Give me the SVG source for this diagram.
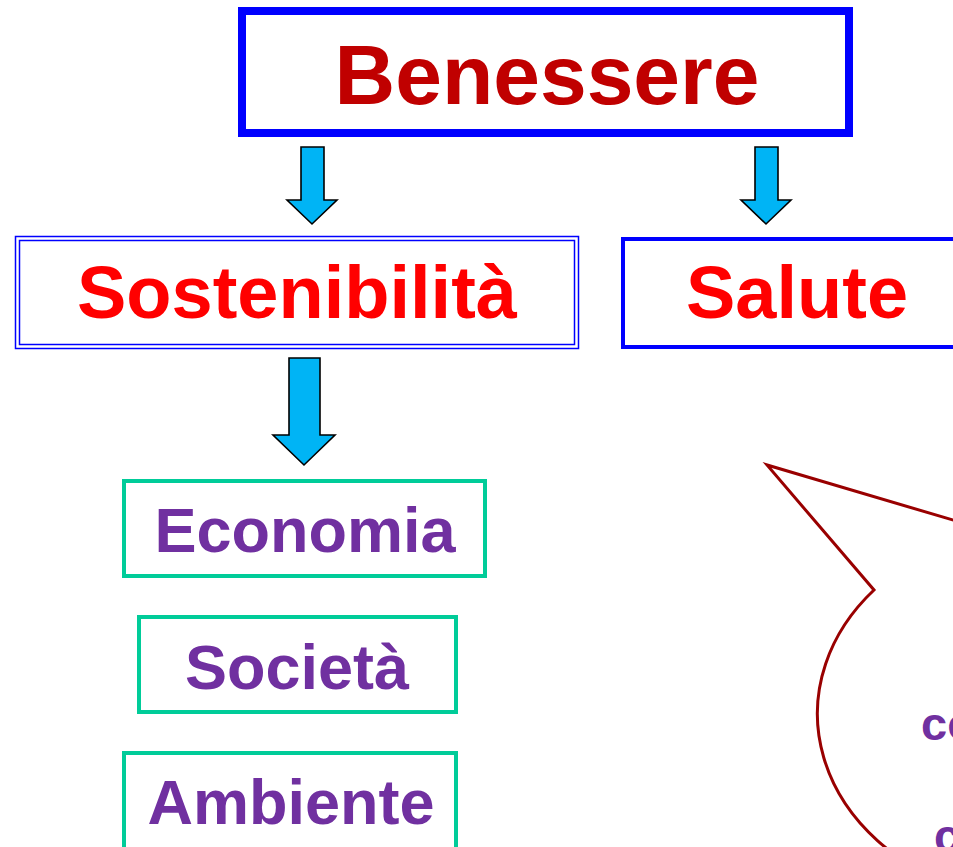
<svg xmlns="http://www.w3.org/2000/svg" width="953" height="847" viewBox="0 0 953 847">
<style>
text{font-family:"Liberation Sans",Arial,sans-serif;font-weight:bold}
.arrow{fill:#00B4F5;stroke:#000;stroke-width:1.6;stroke-linejoin:miter}
.red{fill:#FF0000;font-size:74px}
.pur{fill:#7030A0;font-size:63px}
.teal{fill:#fff;stroke:#00CC99;stroke-width:4}
</style>
<rect width="953" height="847" fill="#fff"/>
<g id="benessere">
<rect x="242" y="11" width="607" height="122" fill="#fff" stroke="#0000FF" stroke-width="8"/>
<text x="547" y="104" text-anchor="middle" font-size="84" fill="#C00000">Benessere</text>
</g>
<g id="connectors">
<path class="arrow" d="M301 147 H324 V200 H337 L312 224 L287 200 H301 Z"/>
<path class="arrow" d="M755 147 H778 V200 H791 L766 224 L741 200 H755 Z"/>
<path class="arrow" d="M289 358 H320 V435 H335 L304 465 L273 435 H289 Z"/>
</g>
<g id="sostenibilita">
<rect x="15.5" y="236.5" width="563" height="112" fill="#fff" stroke="#0000FF" stroke-width="1.5"/>
<rect x="19.5" y="240.5" width="555" height="104" fill="none" stroke="#0000FF" stroke-width="1.5"/>
<text x="297" y="318" text-anchor="middle" class="red">Sostenibilità</text>
</g>
<g id="salute">
<rect x="623" y="239" width="340" height="108" fill="#fff" stroke="#0000FF" stroke-width="4"/>
<text x="686" y="318" class="red">Salute</text>
</g>
<g id="economia">
<rect x="124" y="481" width="361" height="95" class="teal"/>
<text x="305" y="552" text-anchor="middle" class="pur">Economia</text>
</g>
<g id="societa">
<rect x="139" y="617" width="317" height="95" class="teal"/>
<text x="297" y="689" text-anchor="middle" class="pur">Società</text>
</g>
<g id="ambiente">
<rect x="124" y="753" width="332" height="110" class="teal"/>
<text x="291" y="824" text-anchor="middle" class="pur" font-size="64">Ambiente</text>
</g>
<g id="callout">
<path d="M990 531 L767 465 L874 590 A232 189 0 1 0 990 531 Z" fill="none" stroke="#990000" stroke-width="3" stroke-linejoin="miter"/>
<text x="921" y="740" font-size="47" fill="#7030A0">co</text>
<text x="934" y="852" font-size="47" fill="#7030A0">c</text>
</g>
</svg>
